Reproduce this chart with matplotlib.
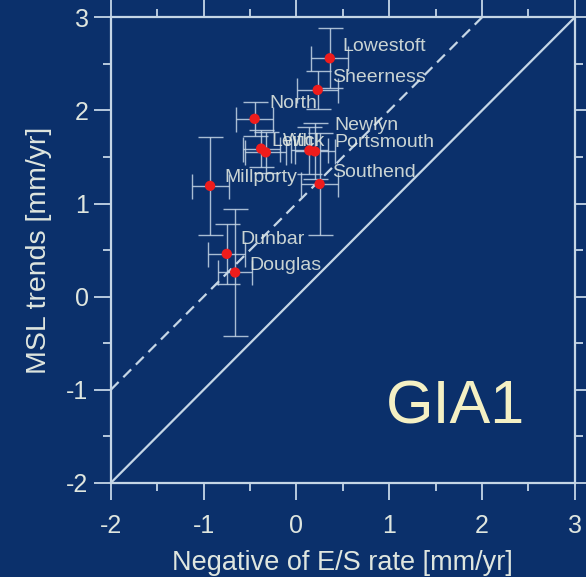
import matplotlib.pyplot as plt
import numpy as np

plt.rcParams['font.family'] = ['Liberation Sans', 'DejaVu Sans']
plt.rcParams['axes.unicode_minus'] = False

# station data
names = ["Lowestoft", "Sheerness", "North", "Leith", "Wick", "Aberdeen", "Newlyn",
         "Millporty", "Southend", "Dunbar", "Douglas"]
es_rate = [0.36, 0.23, -0.45, -0.38, -0.33, 0.14, 0.20, -0.93, 0.25, -0.75, -0.66]
msl = [2.56, 2.22, 1.91, 1.59, 1.55, 1.57, 1.56, 1.19, 1.21, 0.46, 0.26]
x_err = [0.20, 0.22, 0.20, 0.20, 0.22, 0.20, 0.22, 0.20, 0.20, 0.20, 0.18]
y_err = [0.32, 0.20, 0.18, 0.20, 0.22, 0.25, 0.30, 0.53, 0.55, 0.32, 0.68]

labels = ["Lowestoft", "Sheerness", "North", "Newlyn", "Wick", "Leith", "Portsmouth",
          "Millporty", "Southend", "Dunbar", "Douglas"]
label_x = [0.50, 0.39, -0.29, 0.41, -0.15, -0.27, 0.41, -0.78, 0.39, -0.60, -0.51]
label_y = [2.69, 2.35, 2.07, 1.84, 1.67, 1.67, 1.66, 1.28, 1.33, 0.61, 0.34]

bg = "#0b306b"
fg = "#dfe6df"
line_c = "#c5d6e6"

fig = plt.figure(figsize=(5.86, 5.77), dpi=100, facecolor=bg)
ax = fig.add_axes([0.189, 0.163, 0.792, 0.807])
ax.set_facecolor(bg)

ax.plot([-2, 3], [-2, 3], color=line_c, lw=1.6)
ax.plot([-2, 2], [-1, 3], color=line_c, lw=1.6, ls=(0, (5, 3)))

ax.errorbar(es_rate, msl, xerr=x_err, yerr=y_err, fmt="none", ecolor=line_c,
            elinewidth=1.0, capsize=9, capthick=1.0, alpha=0.85)
ax.scatter(es_rate, msl, color="#ee1c1c", s=55, zorder=5, edgecolors="none")

for t, lx, ly in zip(labels, label_x, label_y):
    ax.text(lx, ly, t, color=fg, fontsize=14, ha="left", va="center", alpha=0.9)

ax.text(2.46, -1.2, "GIA1", color="#f4f0c4", fontsize=44, ha="right", va="center")

ax.set_xlim(-2, 3)
ax.set_ylim(-2, 3)
ax.set_xticks(np.arange(-2, 4, 1))
ax.set_yticks(np.arange(-2, 4, 1))
ax.set_xticks(np.arange(-1.5, 3, 1), minor=True)
ax.set_yticks(np.arange(-1.5, 3, 1), minor=True)
ax.tick_params(which="both", direction="out", colors=line_c, labelcolor=fg,
               top=True, right=True, width=1.3)
ax.tick_params(which="major", length=12, labelsize=18)
ax.tick_params(which="minor", length=6)
ax.tick_params(axis="y", pad=4)
ax.tick_params(axis="x", pad=10)
ax.tick_params(labeltop=False, labelright=False)
for s in ax.spines.values():
    s.set_color(line_c)
    s.set_linewidth(1.6)

ax.set_xlabel("Negative of E/S rate [mm/yr]", color=fg, fontsize=19.5, labelpad=9)
ax.set_ylabel("MSL trends [mm/yr]", color=fg, fontsize=20.5, labelpad=10)

fig.savefig("out.png", dpi=100, facecolor=bg)
